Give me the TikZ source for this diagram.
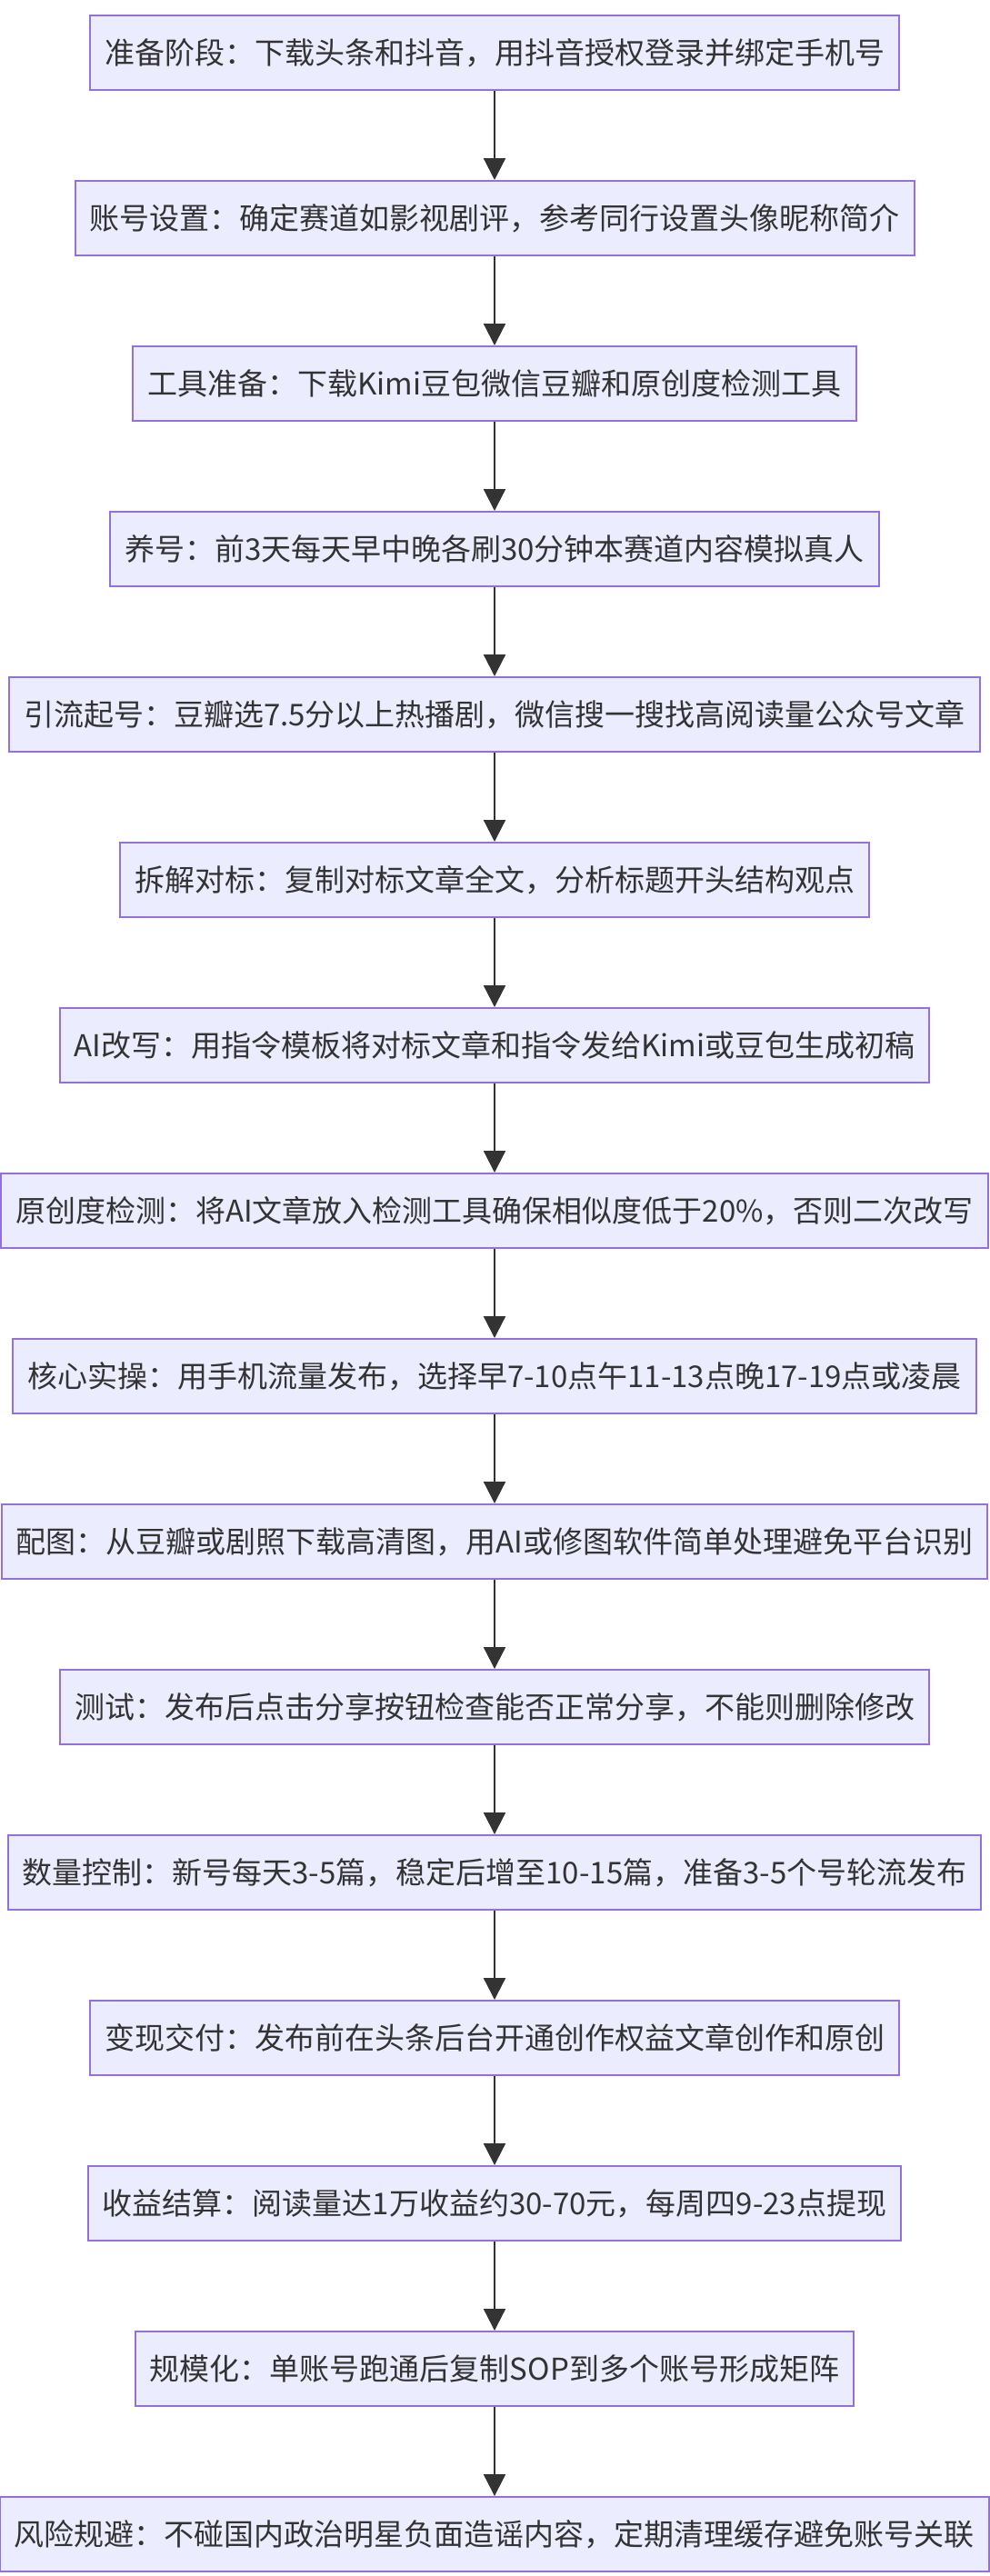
\documentclass[tikz,border=0pt]{standalone}
\usepackage{fontspec}
\setmainfont{Noto Sans CJK SC}
\usetikzlibrary{arrows.meta}
\definecolor{boxfill}{HTML}{ECECFF}
\definecolor{boxline}{HTML}{9370DB}
\definecolor{arr}{HTML}{333333}
\begin{document}
\begin{tikzpicture}[x=1pt,y=1pt,
  stepbox/.style={draw=boxline,fill=boxfill,line width=1pt,inner xsep=8pt,minimum height=41pt,font=\fontsize{16.5}{20}\selectfont,text=arr},
  link/.style={draw=arr,line width=1.1pt,-{Triangle[length=12pt,width=12pt]}}]
\useasboundingbox (0,0) rectangle (544,-1417);
\def\ys{91}
\foreach \i/\t in {1/准备阶段：下载头条和抖音，用抖音授权登录并绑定手机号,
2/账号设置：确定赛道如影视剧评，参考同行设置头像昵称简介,
3/工具准备：下载Kimi豆包微信豆瓣和原创度检测工具,
4/养号：前3天每天早中晚各刷30分钟本赛道内容模拟真人,
5/引流起号：豆瓣选7.5分以上热播剧，微信搜一搜找高阅读量公众号文章,
6/拆解对标：复制对标文章全文，分析标题开头结构观点,
7/AI改写：用指令模板将对标文章和指令发给Kimi或豆包生成初稿,
8/原创度检测：将AI文章放入检测工具确保相似度低于20\%，否则二次改写,
9/核心实操：用手机流量发布，选择早7-10点午11-13点晚17-19点或凌晨,
10/配图：从豆瓣或剧照下载高清图，用AI或修图软件简单处理避免平台识别,
11/测试：发布后点击分享按钮检查能否正常分享，不能则删除修改,
12/数量控制：新号每天3-5篇，稳定后增至10-15篇，准备3-5个号轮流发布,
13/变现交付：发布前在头条后台开通创作权益文章创作和原创,
14/收益结算：阅读量达1万收益约30-70元，每周四9-23点提现,
15/规模化：单账号跑通后复制SOP到多个账号形成矩阵,
16/风险规避：不碰国内政治明星负面造谣内容，定期清理缓存避免账号关联}
{\node[stepbox] (n\i) at (272,{-29-(\i-1)*\ys}) {\t};}
\foreach \i [evaluate=\i as \j using int(\i+1)] in {1,...,15}
{\draw[link] (n\i) -- (n\j);}
\end{tikzpicture}
\end{document}
